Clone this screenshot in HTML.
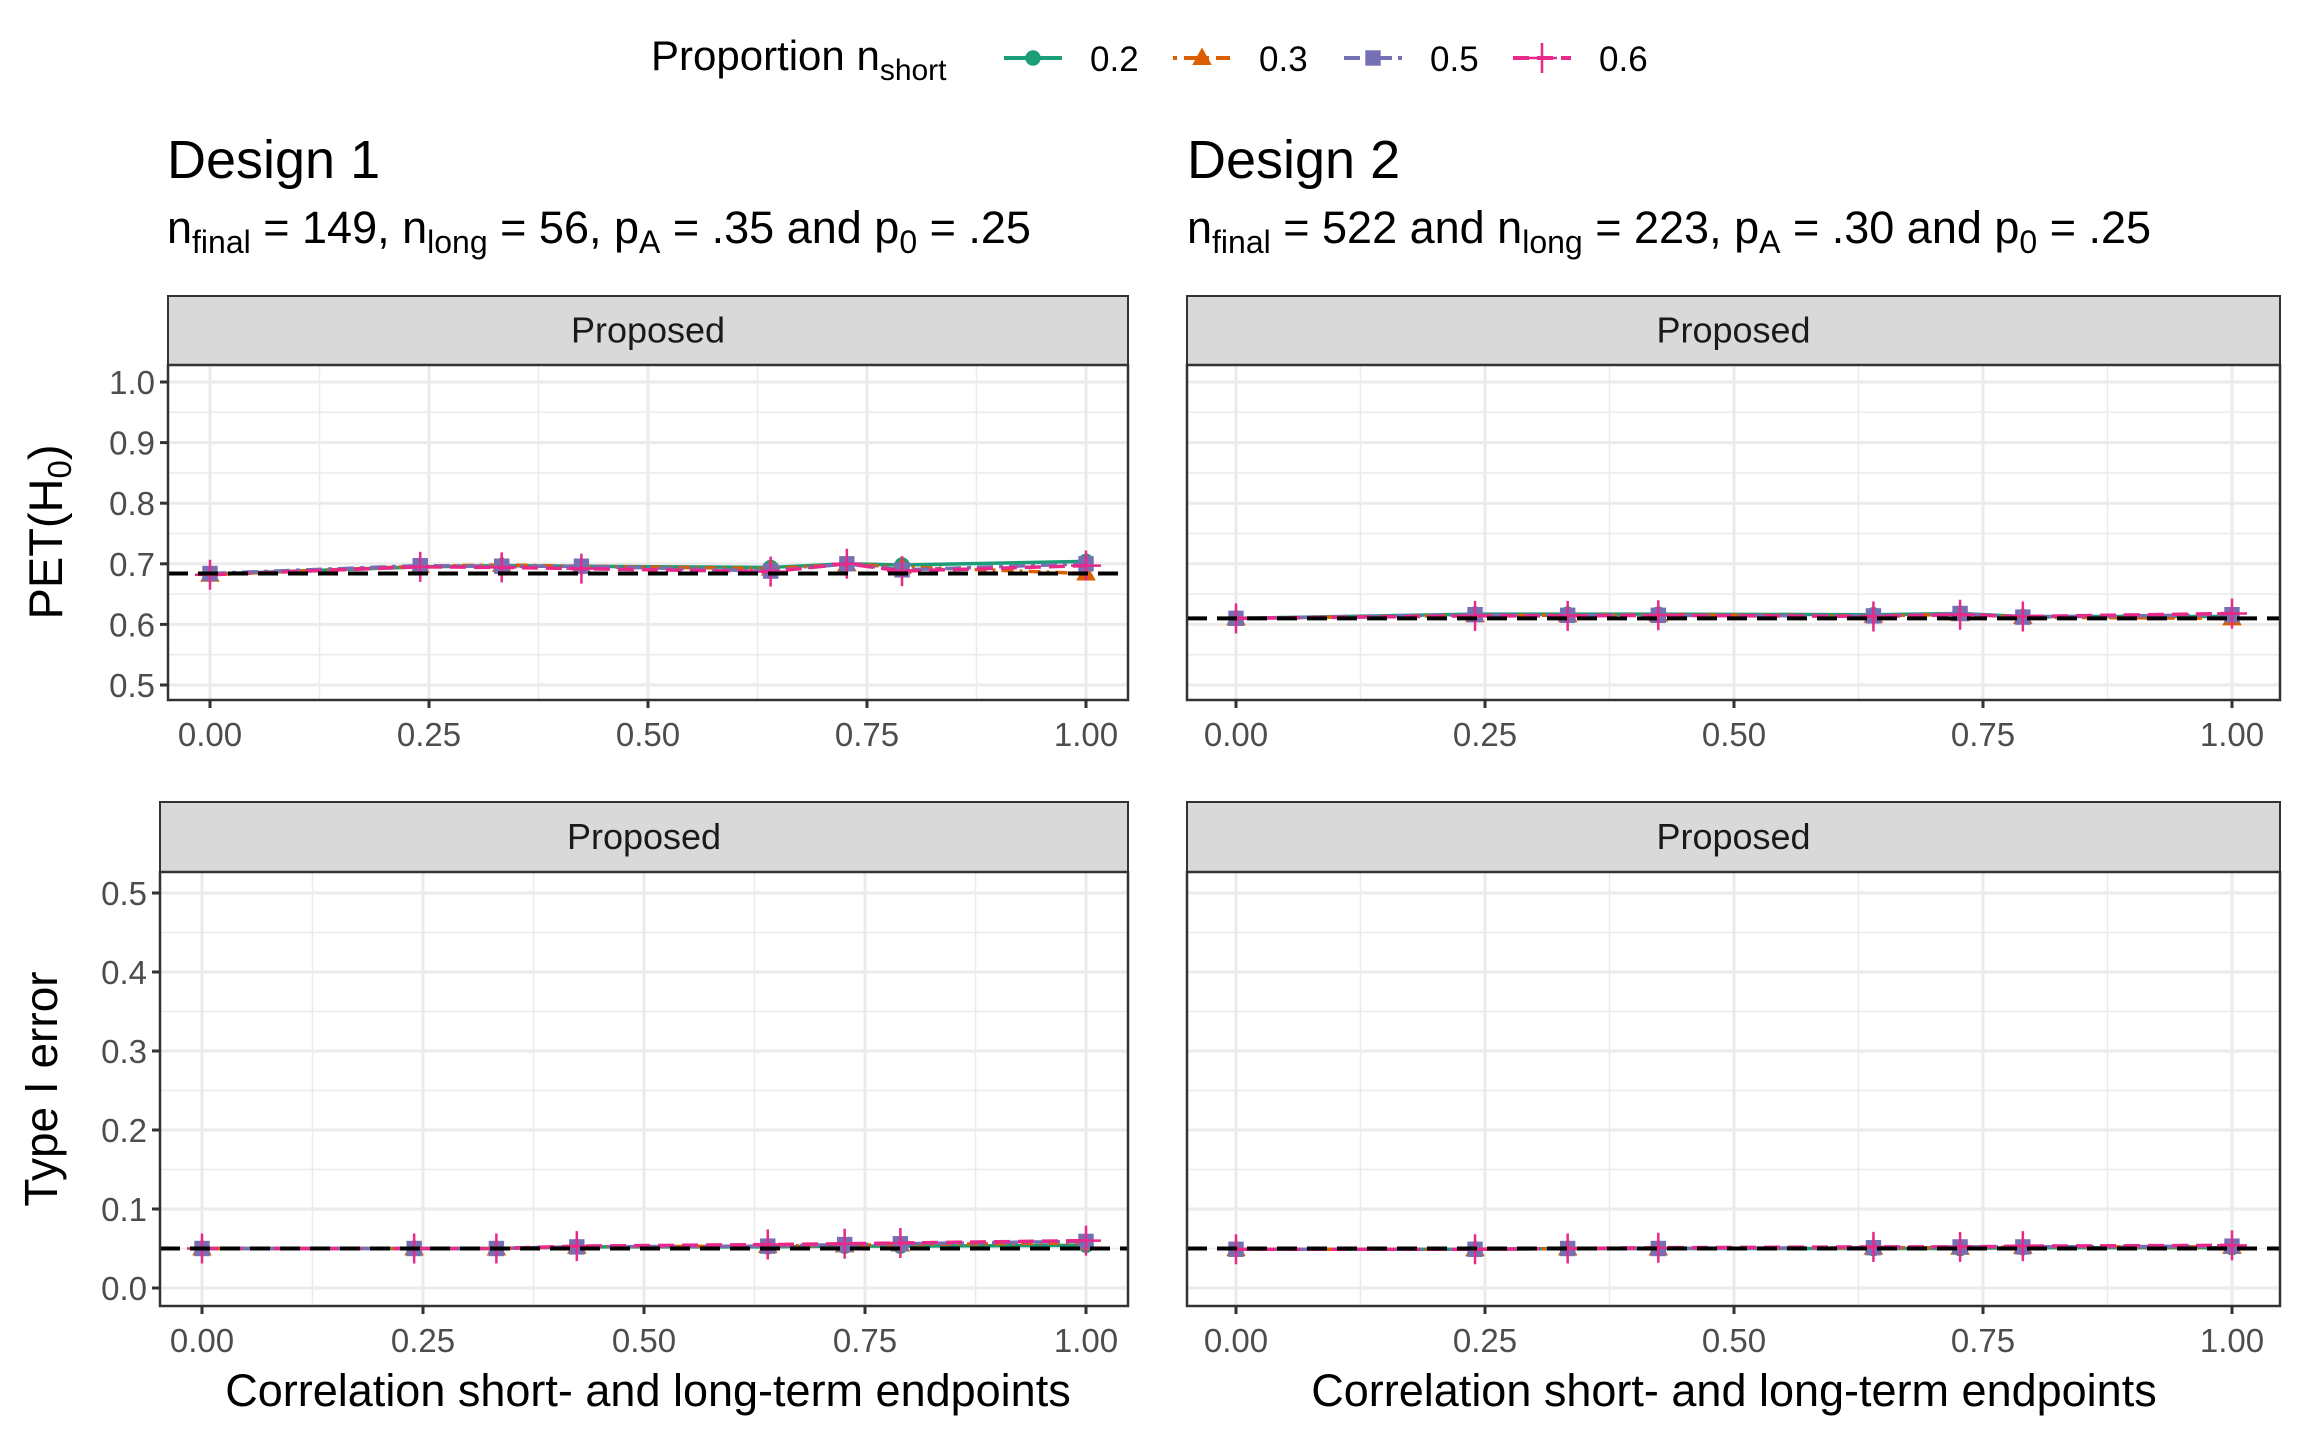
<!DOCTYPE html>
<html><head><meta charset="utf-8">
<style>
html,body{margin:0;padding:0;background:#fff;}
svg{display:block;font-family:"Liberation Sans",Arial,sans-serif;}
</style></head>
<body>
<svg id="chart" width="2304" height="1440" viewBox="0 0 2304 1440" xmlns="http://www.w3.org/2000/svg">
  <g>
    <text x="651" y="70" font-size="42" fill="#000">Proportion n<tspan font-size="30" dy="10">short</tspan></text>
    <g id="legend-keys"></g>
  </g>
  <g>
    <text x="167" y="178" font-size="54" fill="#000">Design 1</text>
    <text x="167" y="243" font-size="45" fill="#000">n<tspan font-size="32" dy="10">final</tspan><tspan dy="-10"> = 149, n</tspan><tspan font-size="32" dy="10">long</tspan><tspan dy="-10"> = 56, p</tspan><tspan font-size="32" dy="10">A</tspan><tspan dy="-10"> = .35 and p</tspan><tspan font-size="32" dy="10">0</tspan><tspan dy="-10"> = .25</tspan></text>
  </g>
  <g>
    <text x="1187" y="178" font-size="54" fill="#000">Design 2</text>
    <text x="1187" y="243" font-size="45" fill="#000">n<tspan font-size="32" dy="10">final</tspan><tspan dy="-10"> = 522 and n</tspan><tspan font-size="32" dy="10">long</tspan><tspan dy="-10"> = 223, p</tspan><tspan font-size="32" dy="10">A</tspan><tspan dy="-10"> = .30 and p</tspan><tspan font-size="32" dy="10">0</tspan><tspan dy="-10"> = .25</tspan></text>
  </g>
  <text transform="translate(62,532) rotate(-90)" text-anchor="middle" font-size="47" fill="#000">PET(H<tspan font-size="33" dy="9">0</tspan><tspan dy="-9">)</tspan></text>
  <text transform="translate(57,1089) rotate(-90)" text-anchor="middle" font-size="46" fill="#000">Type I error</text>
  <text x="648" y="1406" text-anchor="middle" font-size="45" fill="#000">Correlation short- and long-term endpoints</text>
  <text x="1734" y="1406" text-anchor="middle" font-size="45" fill="#000">Correlation short- and long-term endpoints</text>
  <g id="panels"></g>
</svg>
<script>
// ---- data ----
const xValues = [0, 0.24, 0.333, 0.424, 0.64, 0.727, 0.79, 1.0];
const seriesNames = ["0.2", "0.3", "0.5", "0.6"];
const xTicks = [0, 0.25, 0.5, 0.75, 1.0];
const xTickLabels = ["0.00", "0.25", "0.50", "0.75", "1.00"];
const petTicks = [0.5, 0.6, 0.7, 0.8, 0.9, 1.0];
const petTickLabels = ["0.5", "0.6", "0.7", "0.8", "0.9", "1.0"];
const errTicks = [0.0, 0.1, 0.2, 0.3, 0.4, 0.5];
const errTickLabels = ["0.0", "0.1", "0.2", "0.3", "0.4", "0.5"];
const d1Pet02 = [0.683, 0.695, 0.697, 0.696, 0.694, 0.700, 0.698, 0.704];
const d1Pet03 = [0.682, 0.696, 0.698, 0.696, 0.692, 0.699, 0.695, 0.684];
const d1Pet05 = [0.684, 0.697, 0.696, 0.696, 0.688, 0.700, 0.690, 0.700];
const d1Pet06 = [0.682, 0.695, 0.694, 0.692, 0.687, 0.700, 0.688, 0.697];
const d2Pet02 = [0.610, 0.617, 0.617, 0.617, 0.616, 0.618, 0.613, 0.613];
const d2Pet03 = [0.610, 0.615, 0.615, 0.616, 0.614, 0.617, 0.612, 0.610];
const d2Pet05 = [0.610, 0.616, 0.615, 0.615, 0.614, 0.618, 0.612, 0.616];
const d2Pet06 = [0.610, 0.614, 0.614, 0.615, 0.613, 0.616, 0.613, 0.618];
const d1Err02 = [0.050, 0.050, 0.050, 0.052, 0.052, 0.053, 0.053, 0.054];
const d1Err03 = [0.050, 0.050, 0.050, 0.052, 0.053, 0.054, 0.055, 0.057];
const d1Err05 = [0.050, 0.050, 0.050, 0.052, 0.053, 0.055, 0.056, 0.059];
const d1Err06 = [0.050, 0.050, 0.050, 0.053, 0.055, 0.056, 0.057, 0.060];
const d2Err02 = [0.049, 0.049, 0.050, 0.050, 0.050, 0.050, 0.051, 0.051];
const d2Err03 = [0.049, 0.049, 0.050, 0.050, 0.051, 0.051, 0.052, 0.052];
const d2Err05 = [0.049, 0.049, 0.050, 0.050, 0.051, 0.052, 0.052, 0.053];
const d2Err06 = [0.049, 0.049, 0.050, 0.051, 0.052, 0.052, 0.053, 0.054];
const refPetD1 = 0.684;
const refPetD2 = 0.610;
const refErr = 0.05;

const NS = "http://www.w3.org/2000/svg";
const colors = ["#1b9e77", "#d95f02", "#7570b3", "#e7298a"];
const dashes = ["", "3,6,12,6", "16,6,4,6", "16,8"];
const shapes = ["circle", "triangle", "square", "plus"];

function mk(tag, attrs, parent) {
  const e = document.createElementNS(NS, tag);
  for (const k in attrs) e.setAttribute(k, attrs[k]);
  if (parent) parent.appendChild(e);
  return e;
}

function drawMarker(g, shape, cx, cy, col, s) {
  let m;
  if (shape === "circle") m = mk("circle", {cx: cx, cy: cy, r: s * 0.55, fill: col}, g);
  else if (shape === "triangle") m = mk("polygon", {points: `${cx},${cy - s * 0.75} ${cx - s * 0.7},${cy + s * 0.5} ${cx + s * 0.7},${cy + s * 0.5}`, fill: col}, g);
  else if (shape === "square") m = mk("rect", {x: cx - s * 0.55, y: cy - s * 0.55, width: s * 1.1, height: s * 1.1, fill: col}, g);
  else m = mk("path", {d: `M${cx - s},${cy}H${cx + s}M${cx},${cy - s}V${cy + s}`, stroke: col, "stroke-width": 2.5, fill: "none"}, g);
  return m;
}

const panels = document.getElementById("panels");

function panel(cfg) {
  const g = mk("g", {}, panels);
  
  
  const {L, R, T, B, stripT} = cfg;
  const xs = v => cfg.x0 + v * (cfg.x1 - cfg.x0);
  const ys = v => cfg.y0 + (v - cfg.v0) * (cfg.yv1 - cfg.y0) / (cfg.v1 - cfg.v0);
  const strip = mk("rect", {x: L, y: stripT, width: R - L, height: T - stripT, fill: "#d9d9d9", stroke: "#333", "stroke-width": 2}, g);
  
  
  const st = mk("text", {x: (L + R) / 2, y: (stripT + T) / 2 + 12, "text-anchor": "middle", "font-size": 36, fill: "#1a1a1a"}, g);
  st.textContent = "Proposed";
  
  
  mk("rect", {x: L, y: T, width: R - L, height: B - T, fill: "#fff"}, g);
  const ticks = cfg.yTicks;
  const step = ticks[1] - ticks[0];
  for (let i = 0; i < ticks.length; i++) {
    const y = ys(ticks[i]);
    mk("line", {x1: L, x2: R, y1: y, y2: y, stroke: "#ebebeb", "stroke-width": 3}, g);
    const ym = ys(ticks[i] + step / 2);
    if (ym > T && ym < B) mk("line", {x1: L, x2: R, y1: ym, y2: ym, stroke: "#ebebeb", "stroke-width": 1.5}, g);
    const ym2 = ys(ticks[i] - step / 2);
    if (i === 0 && ym2 > T && ym2 < B) mk("line", {x1: L, x2: R, y1: ym2, y2: ym2, stroke: "#ebebeb", "stroke-width": 1.5}, g);
  }
  for (let i = 0; i < xTicks.length; i++) {
    const x = xs(xTicks[i]);
    mk("line", {x1: x, x2: x, y1: T, y2: B, stroke: "#ebebeb", "stroke-width": 3}, g);
    if (i < xTicks.length - 1) {
      const xm = xs((xTicks[i] + xTicks[i + 1]) / 2);
      mk("line", {x1: xm, x2: xm, y1: T, y2: B, stroke: "#ebebeb", "stroke-width": 1.5}, g);
    }
  }
  cfg.series.forEach((vals, si) => {
    const sg = mk("g", {}, g);
    
    
    const pts = vals.map((v, i) => xs(xValues[i]) + "," + ys(v)).join(" ");
    const pl = mk("polyline", {points: pts, fill: "none", stroke: colors[si], "stroke-width": 3.5}, sg);
    if (dashes[si]) pl.setAttribute("stroke-dasharray", dashes[si]);
    
    
    vals.forEach((v, i) => {
      const m = drawMarker(sg, shapes[si], xs(xValues[i]), ys(v), colors[si], si === 3 ? 15 : 14);
      
      
    });
  });
  const ry = ys(cfg.ref);
  const rl = mk("line", {x1: L, x2: R, y1: ry, y2: ry, stroke: "#000", "stroke-width": 4, "stroke-dasharray": "20,10"}, g);
  
  
  mk("rect", {x: L, y: T, width: R - L, height: B - T, fill: "none", stroke: "#333", "stroke-width": 2.5}, g);
  for (let i = 0; i < xTicks.length; i++) {
    const x = xs(xTicks[i]);
    mk("line", {x1: x, x2: x, y1: B, y2: B + 8, stroke: "#333", "stroke-width": 3}, g);
    const t = mk("text", {x: x, y: B + 46, "text-anchor": "middle", "font-size": 33, fill: "#4d4d4d"}, g);
    t.textContent = xTickLabels[i];
    
    
  }
  if (cfg.showY) {
    for (let i = 0; i < ticks.length; i++) {
      const y = ys(ticks[i]);
      mk("line", {x1: L - 8, x2: L, y1: y, y2: y, stroke: "#333", "stroke-width": 3}, g);
      const t = mk("text", {x: L - 13, y: y + 12, "text-anchor": "end", "font-size": 33, fill: "#4d4d4d"}, g);
      t.textContent = cfg.yLabels[i];
      
      
    }
  }
}

panel({name: "panel-design1-pet", L: 168, R: 1128, stripT: 296, T: 365, B: 700, x0: 210, x1: 1086, y0: 685, v0: 0.5, yv1: 382, v1: 1.0, yTicks: petTicks, yLabels: petTickLabels, showY: true, ref: refPetD1, series: [d1Pet02, d1Pet03, d1Pet05, d1Pet06]});
panel({name: "panel-design2-pet", L: 1187, R: 2280, stripT: 296, T: 365, B: 700, x0: 1236, x1: 2232, y0: 685, v0: 0.5, yv1: 382, v1: 1.0, yTicks: petTicks, yLabels: petTickLabels, showY: false, ref: refPetD2, series: [d2Pet02, d2Pet03, d2Pet05, d2Pet06]});
panel({name: "panel-design1-error", L: 160, R: 1128, stripT: 802, T: 872, B: 1306, x0: 202, x1: 1086, y0: 1288, v0: 0.0, yv1: 893, v1: 0.5, yTicks: errTicks, yLabels: errTickLabels, showY: true, ref: refErr, series: [d1Err02, d1Err03, d1Err05, d1Err06]});
panel({name: "panel-design2-error", L: 1187, R: 2280, stripT: 802, T: 872, B: 1306, x0: 1236, x1: 2232, y0: 1288, v0: 0.0, yv1: 893, v1: 0.5, yTicks: errTicks, yLabels: errTickLabels, showY: false, ref: refErr, series: [d2Err02, d2Err03, d2Err05, d2Err06]});

const lg = document.getElementById("legend-keys");
const keyX = [1004, 1173, 1344, 1513];
seriesNames.forEach((n, i) => {
  const g = mk("g", {}, lg);
  
  
  const l = mk("line", {x1: keyX[i], x2: keyX[i] + 58, y1: 58, y2: 58, stroke: colors[i], "stroke-width": 4}, g);
  if (dashes[i]) l.setAttribute("stroke-dasharray", i === 1 ? "4,7,14,7" : dashes[i]);
  drawMarker(g, shapes[i], keyX[i] + 29, 58, colors[i], i === 3 ? 15 : 14);
  const t = mk("text", {x: keyX[i] + 86, y: 71, "font-size": 35, fill: "#000"}, g);
  t.textContent = n;
});
</script>
</body></html>
